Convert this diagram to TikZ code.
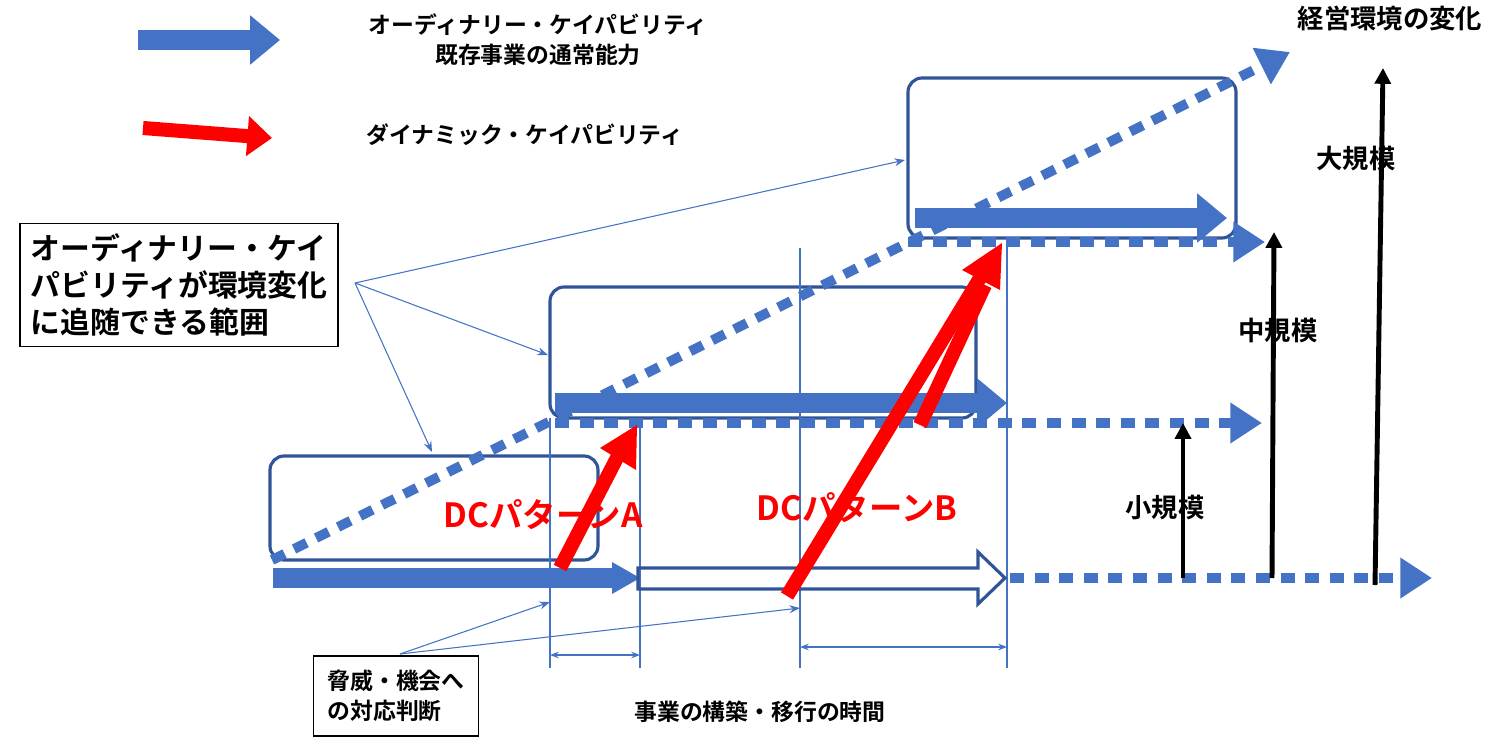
\documentclass[tikz,border=0pt]{standalone}
\usepackage{fontspec}
\setmainfont{Noto Sans CJK JP}[BoldFont={Noto Sans CJK JP Bold}]
\usetikzlibrary{arrows.meta}
\definecolor{cb}{HTML}{4472C4}
\definecolor{cd}{HTML}{2F5597}
\definecolor{rr}{HTML}{FF0000}
\tikzset{
 fat/.style={cb,line width=11pt,-{Triangle[length=17pt,width=27pt]}},
 dots/.style={cb,line width=5.6pt,dash pattern=on 8pt off 6pt},
 dotsarr/.style={dots,-{Triangle[length=18pt,width=22pt,sep=0pt]}},
 rbox/.style={cd,line width=1.8pt,rounded corners=8pt},
 thin/.style={cb,line width=0.6pt},
 thinarr/.style={thin,-{Stealth[length=6pt]}},
 redline/.style={rr,line width=8pt},
 blk/.style={black,line width=2.8pt,-{Triangle[length=9pt,width=9pt]}},
 lab/.style={font=\bfseries\fontsize{15}{18}\selectfont,inner sep=0pt},
 leg/.style={font=\bfseries\fontsize{13}{17}\selectfont,inner sep=0pt,align=center},
}
\begin{document}
\begin{tikzpicture}[x=0.02cm,y=-0.02cm]
\useasboundingbox (0,0) rectangle (1500,740);
% legend
\coordinate (l1a) at (138,40); \coordinate (l1b) at (280,40);
\draw[fat] (l1a) -- (l1b);
\node[leg] (t1) at (538,40) {オーディナリー・ケイパビリティ\\既存事業の通常能力};
\coordinate (l2a) at (143,128); \coordinate (l2b) at (272,138);
\draw[redline,-{Triangle[length=14pt,width=22pt]}] (l2a) -- (l2b);
\node[leg] (t2) at (525,135) {ダイナミック・ケイパビリティ};
\node[lab] (env) at (1390,18) {経営環境の変化};
% boxes
\draw[rbox] (270,456) rectangle (598,560);
\draw[rbox] (550,287) rectangle (976,418);
\draw[rbox] (908,78) rectangle (1236,238);
% vertical guides
\foreach \x/\y in {550/418,640/420,800/248,1007/240}
  \draw[thin] (\x,\y) -- (\x,668);
\draw[thin,{Stealth[length=5pt]}-{Stealth[length=5pt]}] (550,655) -- (640,655);
\draw[thin,{Stealth[length=5pt]}-{Stealth[length=5pt]}] (800,647) -- (1007,647);
% diagonal
\coordinate (d0) at (272,560); \coordinate (d1) at (1290,52);
\draw[dotsarr] (d0) -- (d1);
% bottom row
\draw[cb,line width=11pt] (273,578) -- (615,578);
\fill[cb] (612,562) -- (640,578) -- (612,594) -- cycle;
\draw[cd,line width=1.8pt,line join=miter] (638,568) -- (978,568) -- (978,552) -- (1005,578) -- (978,604) -- (978,589) -- (638,589) -- cycle;
\draw[dotsarr] (1010,578) -- (1432,578);
% middle row
\draw[dotsarr] (555,423) -- (1262,423);
\draw[fat] (555,403) -- (1007,403);
% top row
\draw[dotsarr] (908,242) -- (1265,242);
\draw[fat] (915,218) -- (1227,218);
% red
\draw[redline] (560,568) -- (620,452);
\fill[rr] (600,448) -- (637,425) -- (636,470) -- cycle;
\draw[redline] (787,596) -- (980,278);
\draw[redline] (920,425) -- (985,285);
\fill[rr] (962,270) -- (1002,243) -- (1000,290) -- cycle;
\node[lab,text=rr,font=\bfseries\fontsize{19}{22}\selectfont] (pa) at (543,515) {DCパターンA};
\node[lab,text=rr,font=\bfseries\fontsize{19}{22}\selectfont] (pb) at (857,508) {DCパターンB};
% black scale arrows
\draw[blk] (1183,578) -- (1183,423);
\node[lab] (s1) at (1165,507) {小規模};
\draw[blk] (1272,578) -- (1274,232);
\node[lab] (s2) at (1278,330) {中規模};
\draw[blk] (1375,585) -- (1383,68);
\node[lab] (s3) at (1356,158) {大規模};
% callout
\node[draw,line width=0.8pt,inner sep=6pt,align=left,font=\bfseries\fontsize{17}{21}\selectfont] (call) at (179,285)
 {オーディナリー・ケイ\\パビリティが環境変化\\に追随できる範囲};
\coordinate (c0) at (355,283);
\draw[thinarr] (c0) -- (905,160);
\draw[thinarr] (c0) -- (548,355);
\draw[thinarr] (c0) -- (432,452);
% judgement box
\node[draw,line width=0.8pt,inner sep=8pt,align=left,font=\bfseries\fontsize{13}{17}\selectfont] (jb) at (396,696) {脅威・機会へ\\の対応判断};
\coordinate (j0) at (400,654);
\draw[thinarr] (j0) -- (550,602);
\draw[thinarr] (j0) -- (800,608);
\node[leg] (time) at (760,712) {事業の構築・移行の時間};
\end{tikzpicture}
\end{document}
